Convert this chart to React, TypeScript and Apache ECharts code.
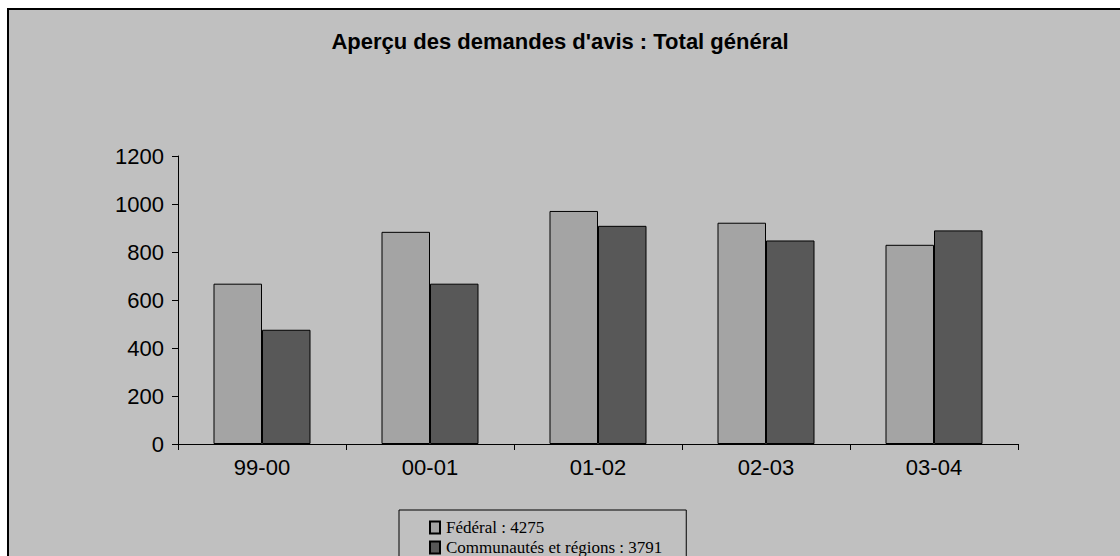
import React, { useEffect, useRef } from "react";
import * as echarts from "echarts";

const categories = ["99-00", "00-01", "01-02", "02-03", "03-04"];
const federal = [668, 884, 971, 922, 830];
const communautes = [476, 668, 909, 848, 890];
const seriesNames = ["Fédéral : 4275", "Communautés et régions : 3791"];
const titleText = "Aperçu des demandes d'avis : Total général";

export default function App() {
  const ref = useRef<HTMLDivElement>(null);
  useEffect(() => {
    document.body.style.margin = "0";
    const chart = echarts.init(ref.current!, undefined, { renderer: "svg" });
    chart.setOption({
      animation: false,
      backgroundColor: "#ffffff",
      title: {
        text: titleText,
        left: "center",
        top: 25,
        textStyle: {
          fontFamily: "Liberation Sans, Arial, sans-serif",
          fontWeight: "bold",
          fontSize: 22,
          color: "#000",
        },
      },
      graphic: [
        {
          type: "rect",
          z: -10,
          silent: true,
          shape: { x: 8, y: 9, width: 1200, height: 600 },
          style: { fill: "#c0c0c0", stroke: "#000", lineWidth: 2 },
        },
      ],
      legend: {
        orient: "vertical",
        left: 399,
        top: 510,
        height: 120,
        padding: [9, 24, 14, 30],
        itemGap: 3,
        itemWidth: 10,
        itemHeight: 12,
        icon: "rect",
        borderColor: "#000",
        borderWidth: 1,
        textStyle: {
          fontFamily: "Liberation Serif, Times New Roman, serif",
          fontSize: 17,
          lineHeight: 16,
          color: "#000",
          padding: [0, 0, 0, 1],
        },
      },
      grid: { left: 178, top: 156, width: 840, height: 288, containLabel: false },
      xAxis: {
        type: "category",
        data: categories,
        boundaryGap: true,
        axisLine: { lineStyle: { color: "#000", width: 1 } },
        axisTick: { show: true, length: 6, lineStyle: { color: "#000" }, alignWithLabel: false },
        axisLabel: {
          margin: 12,
          fontFamily: "Liberation Sans, Arial, sans-serif",
          fontSize: 22,
          color: "#000",
        },
        splitLine: { show: false },
      },
      yAxis: {
        type: "value",
        min: 0,
        max: 1200,
        interval: 200,
        axisLine: { show: true, lineStyle: { color: "#000", width: 1 } },
        axisTick: { show: true, length: 6, lineStyle: { color: "#000" } },
        axisLabel: {
          margin: 14,
          formatter: (v: number) => String(v),
          fontFamily: "Liberation Sans, Arial, sans-serif",
          fontSize: 22,
          color: "#000",
        },
        splitLine: { show: false },
      },
      series: [
        {
          name: seriesNames[0],
          type: "bar",
          data: federal,
          barWidth: 48.5,
          barGap: "0%",
          itemStyle: { color: "#a4a4a4", borderColor: "#000", borderWidth: 1 },
        },
        {
          name: seriesNames[1],
          type: "bar",
          data: communautes,
          barWidth: 48.5,
          barGap: "0%",
          itemStyle: { color: "#585858", borderColor: "#000", borderWidth: 1 },
        },
      ],
    });
    return () => chart.dispose();
  }, []);
  return <div ref={ref} style={{ width: 1120, height: 556 }} />;
}
